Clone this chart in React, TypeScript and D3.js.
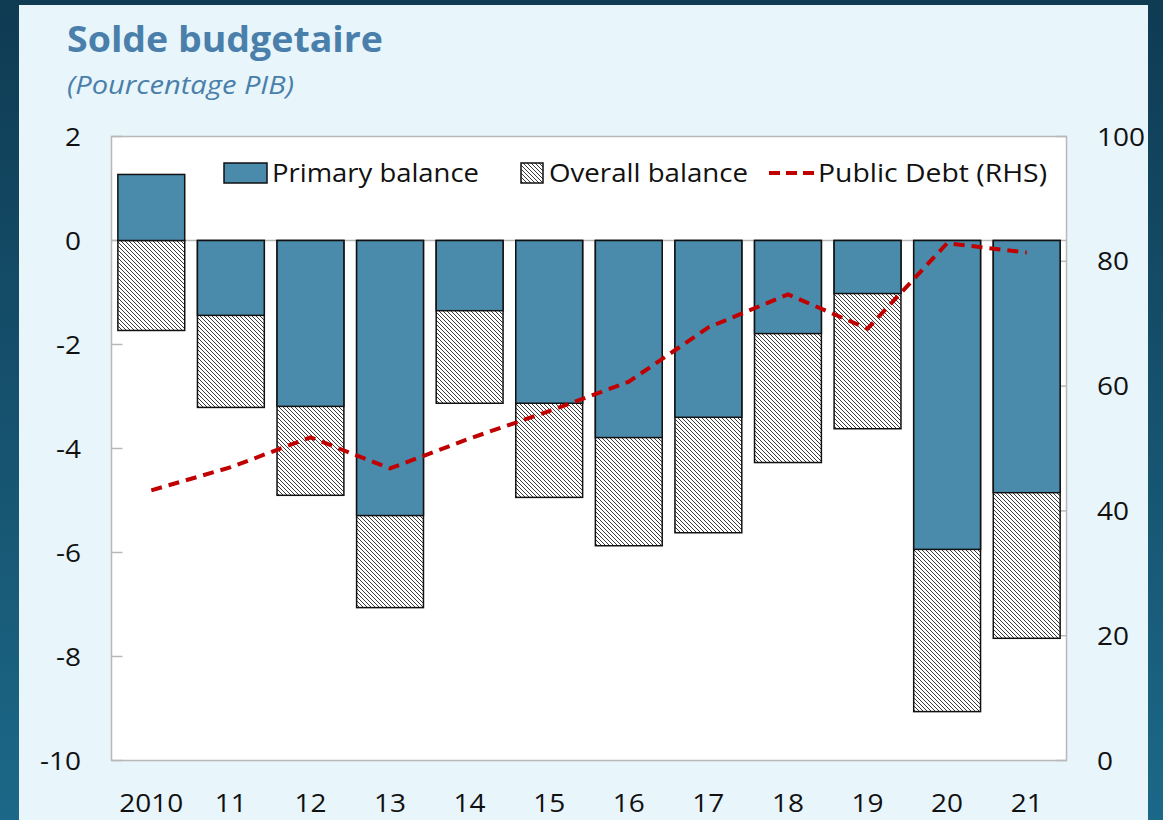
import React from "react";
import * as d3 from "d3";

const years = ["2010", "11", "12", "13", "14", "15", "16", "17", "18", "19", "20", "21"];
const primaryBalance = [1.27, -1.44, -3.19, -5.29, -1.35, -3.13, -3.79, -3.4, -1.79, -1.02, -5.94, -4.85];
const overallBalance = [-1.73, -3.21, -4.9, -7.06, -3.13, -4.94, -5.87, -5.62, -4.27, -3.62, -9.06, -7.65];
const publicDebt = [43.3, 47.0, 51.8, 46.8, 51.6, 56.0, 60.7, 69.4, 74.7, 69.2, 82.9, 81.4];
const leftTicks = [2, 0, -2, -4, -6, -8, -10];
const rightTicks = [100, 80, 60, 40, 20, 0];

const W = 1163;
const H = 820;
const plot = { left: 111.5, right: 1066.5, top: 136.5, bottom: 760.5 };
const BLUE = "#4a8aab";
const RED = "#c00000";
const FONT = "'Open Sans', 'Noto Sans', sans-serif";
const SX = 1.12;

function T(props: { x: number; y: number; anchor?: string; size: number; children: any; dy?: string }) {
  return (
    <text
      transform={`translate(${props.x},${props.y}) scale(${SX},1)`}
      dy={props.dy}
      textAnchor={props.anchor || "start"}
      fontFamily={FONT}
      fontSize={props.size}
      fill="#111"
    >
      {props.children}
    </text>
  );
}

export default function App() {
  const x = d3.scaleBand<string>().domain(years).range([plot.left, plot.right]).paddingInner(0.16).paddingOuter(0.08);
  const yL = d3.scaleLinear().domain([-10, 2]).range([plot.bottom, plot.top]);
  const yR = d3.scaleLinear().domain([0, 100]).range([plot.bottom, plot.top]);
  const line = d3
    .line<number>()
    .x((_, i) => (x(years[i]) as number) + x.bandwidth() / 2)
    .y((d) => yR(d));

  return (
    <svg width={W} height={H} style={{ position: "absolute", left: 0, top: 0 }} xmlns="http://www.w3.org/2000/svg">
      <defs>
        <linearGradient id="bg" x1="0" y1="0" x2="0" y2="1">
          <stop offset="0" stopColor="#0f3b53" />
          <stop offset="1" stopColor="#1c6888" />
        </linearGradient>
        <pattern id="hatch" width="4" height="4" patternUnits="userSpaceOnUse">
          <rect width="4" height="4" fill="#ffffff" />
          <path d="M-1,-1 L5,5 M-1,3 L1,5 M3,-1 L5,1" stroke="#3a3a3a" strokeWidth="1" />
        </pattern>
      </defs>
      <rect x={0} y={0} width={W} height={H} fill="url(#bg)" />
      <rect x={19} y={5} width={1129} height={H} fill="#e8f5fa" />
      <text
        x={67}
        y={52}
        fontFamily={FONT}
        fontWeight={700}
        fontSize={35}
        fill="#4a7fab"
        textLength={316}
        lengthAdjust="spacingAndGlyphs"
      >
        Solde budgetaire
      </text>
      <text
        x={67}
        y={94}
        fontFamily={FONT}
        fontStyle="italic"
        fontSize={25}
        fill="#4a7fab"
        textLength={227}
        lengthAdjust="spacingAndGlyphs"
      >
        (Pourcentage PIB)
      </text>
      <rect
        x={plot.left}
        y={plot.top}
        width={plot.right - plot.left}
        height={plot.bottom - plot.top}
        fill="#ffffff"
        stroke="#b8b8b8"
        strokeWidth={1.5}
      />
      {leftTicks.map((t) => (
        <g key={"l" + t}>
          <line x1={plot.left} x2={plot.left + 11} y1={yL(t)} y2={yL(t)} stroke="#b8b8b8" strokeWidth={1.5} />
          <T x={81} y={yL(t)} dy="0.36em" anchor="end" size={25}>
            {t}
          </T>
        </g>
      ))}
      {rightTicks.map((t) => (
        <g key={"r" + t}>
          <line x1={plot.right - 11} x2={plot.right} y1={yR(t)} y2={yR(t)} stroke="#b8b8b8" strokeWidth={1.5} />
          <T x={1097} y={yR(t)} dy="0.36em" anchor="start" size={25}>
            {t}
          </T>
        </g>
      ))}
      <line x1={plot.left} x2={plot.right} y1={yL(0)} y2={yL(0)} stroke="#b8b8b8" strokeWidth={1.5} />
      {years.map((yr, i) => (
        <g key={yr}>
          <rect
            x={x(yr)}
            y={yL(Math.max(0, overallBalance[i]))}
            width={x.bandwidth()}
            height={Math.abs(yL(overallBalance[i]) - yL(0))}
            fill="url(#hatch)"
            stroke="#111"
            strokeWidth={1.5}
          />
          <rect
            x={x(yr)}
            y={yL(Math.max(0, primaryBalance[i]))}
            width={x.bandwidth()}
            height={Math.abs(yL(primaryBalance[i]) - yL(0))}
            fill={BLUE}
            stroke="#111"
            strokeWidth={1.5}
          />
          <T x={(x(yr) as number) + x.bandwidth() / 2} y={812} anchor="middle" size={25}>
            {yr}
          </T>
        </g>
      ))}
      <path d={line(publicDebt) || ""} fill="none" stroke={RED} strokeWidth={4} strokeDasharray="11 7" />
      {/* legend */}
      <rect x={224} y={163} width={43} height={20} fill={BLUE} stroke="#111" strokeWidth={1.5} />
      <text x={272} y={182} fontFamily={FONT} fontSize={26} fill="#111" textLength={207} lengthAdjust="spacingAndGlyphs">
        Primary balance
      </text>
      <rect x={521} y={163} width={22} height={20} fill="url(#hatch)" stroke="#111" strokeWidth={1.5} />
      <text x={549} y={182} fontFamily={FONT} fontSize={26} fill="#111" textLength={199} lengthAdjust="spacingAndGlyphs">
        Overall balance
      </text>
      <line x1={769} x2={815} y1={173} y2={173} stroke={RED} strokeWidth={4} strokeDasharray="11 6" />
      <text x={818} y={182} fontFamily={FONT} fontSize={26} fill="#111" textLength={229} lengthAdjust="spacingAndGlyphs">
        Public Debt (RHS)
      </text>
    </svg>
  );
}
